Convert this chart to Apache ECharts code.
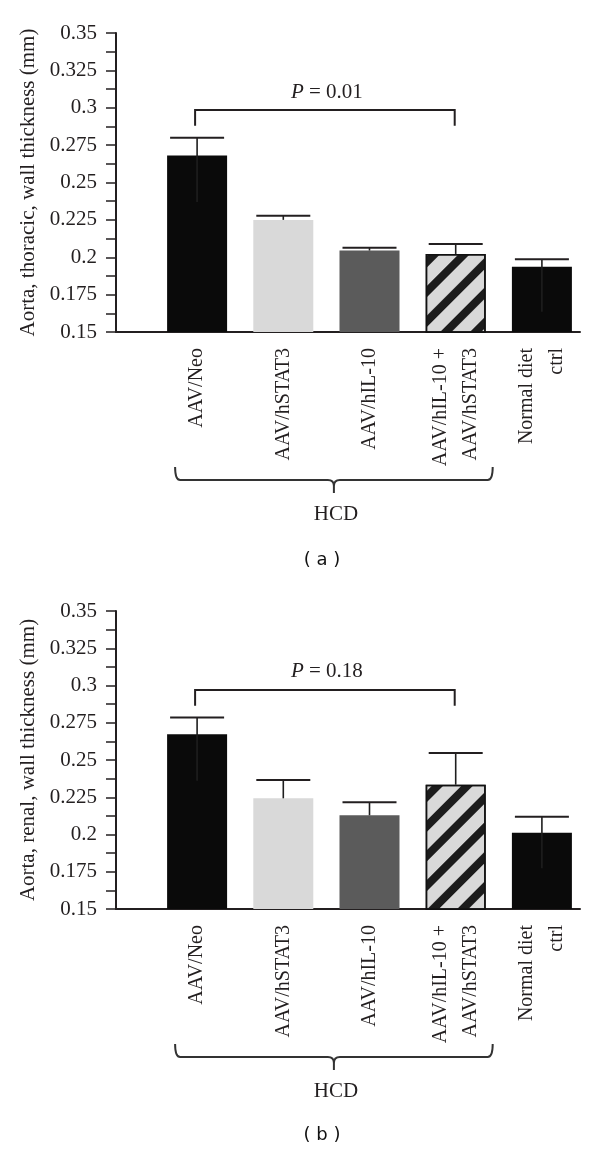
<!DOCTYPE html>
<html><head><meta charset="utf-8">
<script src="https://cdn.jsdelivr.net/npm/echarts@6/dist/echarts.min.js"></script>
<style>html,body{margin:0;padding:0;background:#fff}#c{width:600px;height:1152px}</style>
</head><body><div id="c"></div>
<script>
// ---------- data ----------
const categories = ['AAV/Neo', 'AAV/hSTAT3', 'AAV/hIL-10', 'AAV/hIL-10 +\nAAV/hSTAT3', 'Normal diet\nctrl'];
const yTickLabels = ['0.15', '0.175', '0.2', '0.225', '0.25', '0.275', '0.3', '0.325', '0.35'];
const yMin = 0.15, yMax = 0.35, yStep = 0.025;

const thoracicMean    = [0.268, 0.225, 0.2045, 0.2022, 0.1937];
const thoracicErrHigh = [0.280, 0.2278, 0.2064, 0.2089, 0.1986];
const thoracicErrLow  = [0.237, null, null, null, 0.1636];
const thoracicBracket = [0, 3, 0.2985, 0.288];   // from cat, to cat, line value, drop value
const thoracicP = '0.01';

const renalMean    = [0.2672, 0.2243, 0.2129, 0.2334, 0.2012];
const renalErrHigh = [0.2786, 0.2366, 0.2216, 0.2547, 0.2119];
const renalErrLow  = [0.2361, null, null, null, 0.1773];
const renalBracket = [0, 3, 0.297, 0.2864];
const renalP = '0.18';

const groupSpan = [0, 3];     // categories under the HCD brace
const groupLabel = 'HCD';
const yNames = ['Aorta, thoracic, wall thickness (mm)', 'Aorta, renal, wall thickness (mm)'];
const panelTags = ['( a )', '( b )'];

// ---------- style ----------
const SERIF = 'Liberation Serif';
const INK = '#231f20';
const barColors = ['#0a0a0a', '#d9d9d9', '#5b5b5b', '#d9d9d9', '#0a0a0a'];
const hatchIndex = 3;

const panels = [
  {top: 33, height: 299, mean: thoracicMean, hi: thoracicErrHigh, lo: thoracicErrLow, br: thoracicBracket, p: thoracicP},
  {top: 611, height: 298, mean: renalMean, hi: renalErrHigh, lo: renalErrLow, br: renalBracket, p: renalP}
];

const grid = [], xAxis = [], yAxis = [], series = [], graphic = [];

panels.forEach((pn, k) => {
  const ga = 2 * k, gb = 2 * k + 1;
  grid.push({left: 116, right: 20, top: pn.top, height: pn.height});
  grid.push({left: 154, right: 15, top: pn.top, height: pn.height});

  xAxis.push({
    type: 'value', gridIndex: ga, min: 0, max: 1,
    axisLine: {show: true, lineStyle: {color: INK, width: 2}},
    axisTick: {show: false}, axisLabel: {show: false}, splitLine: {show: false}
  });
  xAxis.push({
    type: 'category', gridIndex: gb, data: categories,
    axisLine: {show: false}, axisTick: {show: false}, splitLine: {show: false},
    axisLabel: {
      interval: 0, rotate: 90, margin: 16, fontFamily: SERIF, fontSize: 20,
      color: INK, lineHeight: 30
    }
  });

  yAxis.push({
    type: 'value', gridIndex: ga, min: yMin, max: yMax, interval: yStep,
    name: yNames[k], nameLocation: 'middle', nameGap: 74,
    nameTextStyle: {fontFamily: SERIF, fontSize: 21, color: INK},
    axisLine: {show: true, lineStyle: {color: INK, width: 2}},
    axisTick: {show: true, length: 10, lineStyle: {color: INK, width: 1.5}},
    minorTick: {show: true, splitNumber: 2, length: 10, lineStyle: {color: INK, width: 1.5}},
    splitLine: {show: false}, minorSplitLine: {show: false},
    axisLabel: {
      margin: 19, fontFamily: SERIF, fontSize: 21, color: INK,
      formatter: v => yTickLabels[Math.round((v - yMin) / yStep)]
    }
  });
  yAxis.push({type: 'value', gridIndex: gb, min: yMin, max: yMax, show: false});

  series.push({
    type: 'bar', xAxisIndex: gb, yAxisIndex: gb, barWidth: 60,
    data: pn.mean.map((v, i) => {
      const it = {value: v, itemStyle: {color: barColors[i]}};
      if (i === hatchIndex) {
        it.itemStyle.borderColor = '#111';
        it.itemStyle.borderWidth = 1.5;
        it.itemStyle.decal = {
          symbol: 'rect', symbolSize: 1, color: '#1c1c1c',
          dashArrayX: [1, 0], dashArrayY: [8, 12.5], rotation: -Math.PI / 4
        };
      }
      return it;
    }),
    z: 2
  });

  // error bars
  series.push({
    type: 'custom', xAxisIndex: gb, yAxisIndex: gb, z: 3,
    data: pn.mean.map((v, i) => [i, pn.hi[i], pn.lo[i] == null ? v : pn.lo[i]]),
    renderItem: (params, api) => {
      const top = api.coord([api.value(0), api.value(1)]);
      const bot = api.coord([api.value(0), api.value(2)]);
      const half = 27;
      return {
        type: 'group', children: [
          {type: 'line', shape: {x1: top[0], y1: top[1], x2: bot[0], y2: bot[1]},
           style: {stroke: '#1e1e1e', lineWidth: 1.6}},
          {type: 'line', shape: {x1: top[0] - half, y1: top[1], x2: top[0] + half, y2: top[1]},
           style: {stroke: INK, lineWidth: 2}}
        ]
      };
    }
  });

  // significance bracket
  series.push({
    type: 'custom', xAxisIndex: gb, yAxisIndex: gb, z: 3, clip: false,
    data: [pn.br],
    renderItem: (params, api) => {
      const a = api.coord([api.value(0), api.value(2)]);
      const b = api.coord([api.value(1), api.value(2)]);
      const a2 = api.coord([api.value(0), api.value(3)]);
      const x0 = a[0] - 2, x1 = b[0] - 1;
      return {
        type: 'group', children: [
          {type: 'polyline', shape: {points: [[x0, a2[1]], [x0, a[1]], [x1, a[1]], [x1, a2[1]]]},
           style: {stroke: INK, lineWidth: 2, fill: null}},
          {type: 'text', x: (x0 + x1) / 2 + 2, y: a[1] - 18,
           style: {text: '{i|P} = ' + pn.p, align: 'center', verticalAlign: 'middle',
                   fontFamily: SERIF, fontSize: 21, fill: INK,
                   rich: {i: {fontStyle: 'italic', fontFamily: SERIF, fontSize: 21, fill: INK}}}}
        ]
      };
    }
  });

  // group brace
  series.push({
    type: 'custom', xAxisIndex: gb, yAxisIndex: gb, z: 3, clip: false,
    data: [groupSpan],
    renderItem: (params, api) => {
      const a = api.coord([api.value(0), yMin]);
      const b = api.coord([api.value(1), yMin]);
      const x0 = a[0] - 22, x1 = b[0] + 37, xm = (x0 + x1) / 2;
      const yt = a[1] + 135, yl = a[1] + 148, yb = a[1] + 161;
      const path = `M${x0},${yt} Q${x0},${yl} ${x0 + 5},${yl} L${xm - 6},${yl} Q${xm},${yl} ${xm},${yl + 6} L${xm},${yb} ` +
                   `M${xm},${yl + 6} Q${xm},${yl} ${xm + 6},${yl} L${x1 - 5},${yl} Q${x1},${yl} ${x1},${yt}`;
      return {
        type: 'group', children: [
          {type: 'path', shape: {pathData: path}, style: {stroke: '#333', lineWidth: 2, fill: null}},
          {type: 'text', x: xm + 2, y: a[1] + 182,
           style: {text: groupLabel, align: 'center', verticalAlign: 'middle',
                   fontFamily: SERIF, fontSize: 21, fill: INK}}
        ]
      };
    }
  });
});

graphic.push({type: 'text', x: 322, y: 560, style: {text: panelTags[0], align: 'center', verticalAlign: 'middle', fontFamily: 'DejaVu Sans', fontSize: 18, fill: '#111'}});
graphic.push({type: 'text', x: 322, y: 1135, style: {text: panelTags[1], align: 'center', verticalAlign: 'middle', fontFamily: 'DejaVu Sans', fontSize: 18, fill: '#111'}});

const chart = echarts.init(document.getElementById('c'), null, {renderer: 'canvas'});
chart.setOption({
  animation: false, backgroundColor: '#fff',
  grid, xAxis, yAxis, series, graphic
});
</script></body></html>
